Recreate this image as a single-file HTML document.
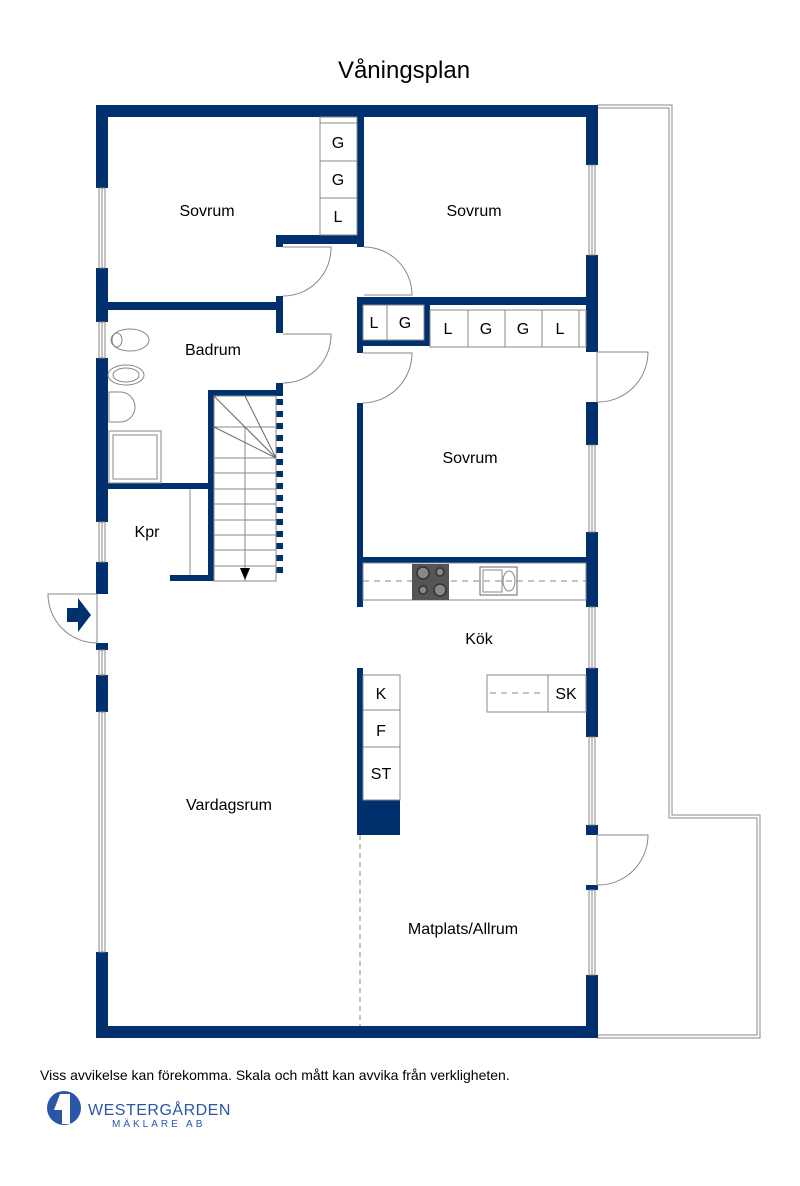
<!DOCTYPE html>
<html><head><meta charset="utf-8"><style>
html,body{margin:0;padding:0;background:#fff}
svg{display:block}
text{font-family:"Liberation Sans",Arial,sans-serif;fill:#000}
</style></head><body>
<svg width="800" height="1186" viewBox="0 0 800 1186" xmlns="http://www.w3.org/2000/svg">
<text x="404" y="78" font-size="24" text-anchor="middle">Våningsplan</text>

<g fill="none" stroke="#888" stroke-width="1">
<path d="M597 105 H672 V815 H760 V1038 H597"/>
<path d="M597 108 H669 V818 H757 V1035 H597"/>
</g>

<g fill="#00306e">
<rect x="96" y="105" width="502" height="12"/>
<rect x="96" y="1026" width="502" height="12"/>
<rect x="96" y="105" width="12" height="83"/>
<rect x="96" y="268" width="12" height="54"/>
<rect x="96" y="358" width="12" height="164"/>
<rect x="96" y="562" width="12" height="32"/>
<rect x="96" y="643" width="12" height="7"/>
<rect x="96" y="675" width="12" height="37"/>
<rect x="96" y="952" width="12" height="86"/>
<rect x="586" y="105" width="12" height="60"/>
<rect x="586" y="255" width="12" height="97"/>
<rect x="586" y="402" width="12" height="43"/>
<rect x="586" y="532" width="12" height="75"/>
<rect x="586" y="668" width="12" height="69"/>
<rect x="586" y="825" width="12" height="10"/>
<rect x="586" y="885" width="12" height="5"/>
<rect x="586" y="975" width="12" height="63"/>
<rect x="357" y="117" width="7" height="130"/>
<rect x="276" y="235" width="88" height="9"/>
<rect x="276" y="235" width="7" height="12"/>
<rect x="108" y="302" width="175" height="8"/>
<rect x="276" y="296" width="7" height="37"/>
<rect x="276" y="383" width="7" height="13"/>
<rect x="208" y="390" width="75" height="6"/>
<rect x="208" y="390" width="6" height="191"/>
<rect x="108" y="483" width="100" height="6"/>
<rect x="170" y="575" width="44" height="6"/>
<rect x="357" y="297" width="229" height="8"/>
<rect x="357" y="297" width="6" height="56"/>
<rect x="357" y="340" width="73" height="6"/>
<rect x="424" y="305" width="6" height="41"/>
<rect x="357" y="403" width="6" height="204"/>
<rect x="357" y="557" width="229" height="6"/>
<rect x="357" y="668" width="6" height="167"/>
<rect x="363" y="800" width="37" height="35"/>
<path d="M67 608 H78 V598 L91 615 L78 632 V622 H67 Z"/>
</g>
<g fill="#00306e">
<rect x="276" y="399" width="7" height="6"/><rect x="276" y="411" width="7" height="6"/><rect x="276" y="423" width="7" height="6"/><rect x="276" y="435" width="7" height="6"/><rect x="276" y="447" width="7" height="6"/><rect x="276" y="459" width="7" height="6"/><rect x="276" y="471" width="7" height="6"/><rect x="276" y="483" width="7" height="6"/><rect x="276" y="495" width="7" height="6"/><rect x="276" y="507" width="7" height="6"/><rect x="276" y="519" width="7" height="6"/><rect x="276" y="531" width="7" height="6"/><rect x="276" y="543" width="7" height="6"/><rect x="276" y="555" width="7" height="6"/><rect x="276" y="567" width="7" height="6"/>
</g>

<g fill="none" stroke="#888" stroke-width="1">
<rect x="99" y="188" width="6" height="80"/><line x1="102" y1="188" x2="102" y2="268"/>
<rect x="99" y="322" width="6" height="36"/><line x1="102" y1="322" x2="102" y2="358"/>
<rect x="99" y="522" width="6" height="40"/><line x1="102" y1="522" x2="102" y2="562"/>
<rect x="99" y="650" width="6" height="25"/><line x1="102" y1="650" x2="102" y2="675"/>
<rect x="99" y="712" width="6" height="240"/><line x1="102" y1="712" x2="102" y2="952"/>
<rect x="589" y="165" width="6" height="90"/><line x1="592" y1="165" x2="592" y2="255"/>
<rect x="589" y="445" width="6" height="87"/><line x1="592" y1="445" x2="592" y2="532"/>
<rect x="589" y="607" width="6" height="61"/><line x1="592" y1="607" x2="592" y2="668"/>
<rect x="589" y="737" width="6" height="88"/><line x1="592" y1="737" x2="592" y2="825"/>
<rect x="589" y="890" width="6" height="85"/><line x1="592" y1="890" x2="592" y2="975"/>
<path d="M97 594 H48 A49 49 0 0 0 97 643 Z"/>
<path d="M283 247 H331 A48 48 0 0 1 283 296"/>
<path d="M283 334 H331 A48 48 0 0 1 283 383"/>
<path d="M364 247 A48 48 0 0 1 412 295 H364"/>
<path d="M363 353 H412 A50 50 0 0 1 363 403"/>
<path d="M597 352 H648 A50 50 0 0 1 597 402 Z"/>
<path d="M597 835 H648 A50 50 0 0 1 597 885 Z"/>
<rect x="320" y="117" width="37" height="118"/>
<line x1="320" y1="123" x2="357" y2="123"/>
<line x1="320" y1="161" x2="357" y2="161"/>
<line x1="320" y1="198" x2="357" y2="198"/>
<rect x="363" y="305" width="61" height="35"/><line x1="387" y1="305" x2="387" y2="340"/>
<rect x="430" y="310" width="156" height="37"/>
<line x1="468" y1="310" x2="468" y2="347"/><line x1="505" y1="310" x2="505" y2="347"/><line x1="542" y1="310" x2="542" y2="347"/><line x1="579" y1="310" x2="579" y2="347"/>
<rect x="214" y="396" width="62" height="185"/>
<line x1="245" y1="427" x2="245" y2="581"/>
<line x1="214" y1="427" x2="276" y2="427"/>
<g stroke="#666">
<line x1="214" y1="396" x2="276" y2="458"/><line x1="245" y1="396" x2="276" y2="458"/><line x1="214" y1="427" x2="276" y2="458"/>
</g>
<line x1="214" y1="458" x2="276" y2="458"/><line x1="214" y1="473" x2="276" y2="473"/><line x1="214" y1="489" x2="276" y2="489"/><line x1="214" y1="504" x2="276" y2="504"/><line x1="214" y1="520" x2="276" y2="520"/><line x1="214" y1="535" x2="276" y2="535"/><line x1="214" y1="550" x2="276" y2="550"/><line x1="214" y1="566" x2="276" y2="566"/>
<line x1="190" y1="489" x2="190" y2="575"/>
<ellipse cx="130" cy="340" rx="19" ry="11"/><ellipse cx="117" cy="340" rx="5" ry="7"/>
<ellipse cx="126" cy="375" rx="18" ry="10"/><ellipse cx="126" cy="375" rx="13" ry="7"/>
<path d="M109 392 H120 A15 15 0 0 1 120 422 H109 Z"/>
<rect x="109" y="431" width="52" height="52"/><rect x="113" y="435" width="44" height="44"/>
<rect x="363" y="563" width="223" height="37"/>
<rect x="480" y="567" width="37" height="28" stroke="#666"/><rect x="483" y="570" width="19" height="22"/><ellipse cx="509" cy="581" rx="6" ry="10"/>
<line x1="363" y1="581" x2="586" y2="581" stroke-dasharray="6 5"/>
<rect x="363" y="675" width="37" height="125"/>
<line x1="363" y1="710" x2="400" y2="710"/><line x1="363" y1="747" x2="400" y2="747"/>
<rect x="487" y="675" width="99" height="37"/><line x1="548" y1="675" x2="548" y2="712"/>
<line x1="490" y1="693" x2="545" y2="693" stroke-dasharray="6 5"/>
<line x1="360" y1="835" x2="360" y2="1026" stroke-dasharray="5 4"/>
</g>
<rect x="412" y="564" width="37" height="36" fill="#555"/>
<g fill="#888" stroke="#333" stroke-width="1.5"><circle cx="423" cy="573" r="6"/><circle cx="440" cy="572" r="4"/><circle cx="423" cy="590" r="4"/><circle cx="440" cy="590" r="6"/></g>
<path d="M240 568 L250 568 L245 580 Z" fill="#000"/>

<g font-size="16" text-anchor="middle">
<text x="207" y="216">Sovrum</text>
<text x="474" y="216">Sovrum</text>
<text x="213" y="355">Badrum</text>
<text x="470" y="463">Sovrum</text>
<text x="147" y="537">Kpr</text>
<text x="479" y="644">Kök</text>
<text x="229" y="810">Vardagsrum</text>
<text x="463" y="934">Matplats/Allrum</text>
<text x="338" y="148">G</text><text x="338" y="185">G</text><text x="338" y="222">L</text>
<text x="374" y="328">L</text><text x="405" y="328">G</text>
<text x="448" y="334">L</text><text x="486" y="334">G</text><text x="523" y="334">G</text><text x="560" y="334">L</text>
<text x="381" y="699">K</text><text x="381" y="736">F</text><text x="381" y="779">ST</text>
<text x="566" y="699">SK</text>
</g>
<text x="40" y="1080" font-size="14">Viss avvikelse kan förekomma. Skala och mått kan avvika från verkligheten.</text>
<circle cx="64" cy="1108" r="17" fill="#2a56a8"/>
<path d="M60 1094 L70 1094 L70 1124 L62 1124 L62 1110 L54 1110 Z" fill="#fff"/>
<text x="88" y="1115" font-size="16" style="fill:#2a56a8;letter-spacing:0.5px">WESTERGÅRDEN</text>
<text x="112" y="1127" font-size="10" style="fill:#2a56a8;letter-spacing:3px">MÄKLARE AB</text>
</svg>
</body></html>
